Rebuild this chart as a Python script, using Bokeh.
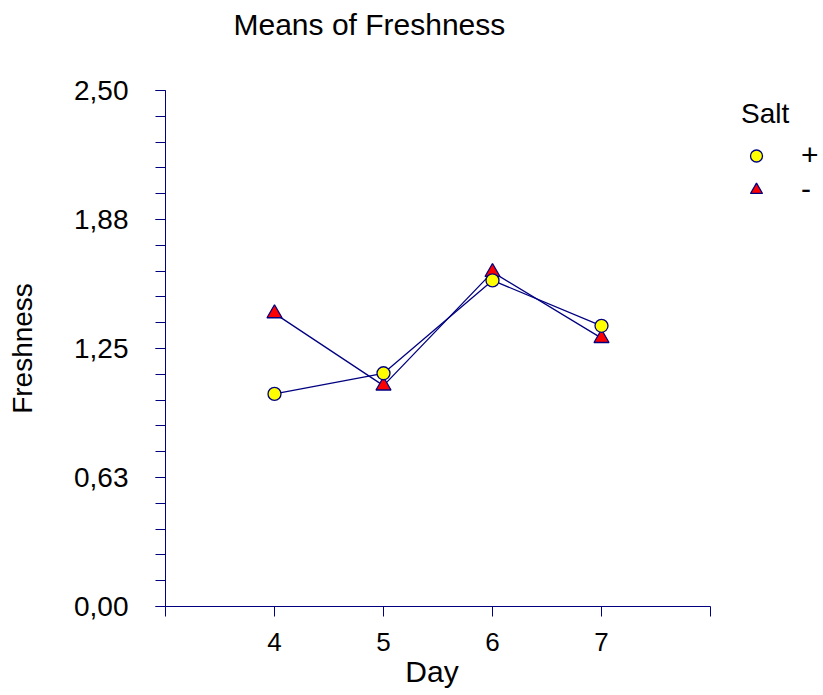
from bokeh.plotting import figure
from bokeh.models import FixedTicker, Legend, LegendItem, Range1d, ColumnDataSource
from bokeh.embed import file_html
from bokeh.resources import INLINE

# ---- data ----
days = [4, 5, 6, 7]
salt_plus = [1.03, 1.13, 1.58, 1.36]
salt_minus = [1.42, 1.07, 1.62, 1.30]
series_labels = ["+", "-"]
y_ticks = [0.0, 0.625, 1.25, 1.875, 2.5]
y_tick_labels = ["0,00", "0,63", "1,25", "1,88", "2,50"]
y_minor = [i * 0.125 for i in range(21)]
x_ticks = [3, 4, 5, 6, 7, 8]
x_tick_labels = ["", "4", "5", "6", "7", ""]

NAVY = "#000080"
FONT = "Liberation Sans"
NBSP = "\u00a0"

# frame spans to the right edge so the legend (drawn inside the frame) is not clipped;
# the x axis itself is bounded to the 3..8 scale
p = figure(width=823, height=695, output_backend="svg", toolbar_location=None,
           x_range=Range1d(x_ticks[0], x_ticks[0] + 658 / 109),
           y_range=Range1d(y_ticks[0], y_ticks[-1]),
           min_border_left=165, min_border_right=0,
           min_border_top=90, min_border_bottom=89)
p.outline_line_color = None
p.xgrid.visible = False
p.ygrid.visible = False
p.background_fill_color = "white"
p.border_fill_color = "white"

# title (second empty line only used to lift the text towards the top edge)
p.title.text = "Means of Freshness\n"
p.title.text_font = FONT
p.title.text_font_size = "30px"
p.title.text_font_style = "normal"
p.title.text_color = "black"
p.title.text_line_height = 1.4
p.title.align = "left"
p.title.offset = 68
p.title.vertical_align = "top"
p.title.standoff = 4

# axes
for ax in (p.xaxis[0], p.yaxis[0]):
    ax.axis_line_color = NAVY
    ax.major_tick_line_color = NAVY
    ax.minor_tick_line_color = NAVY
    ax.major_tick_out = 10
    ax.major_tick_in = 0
    ax.minor_tick_out = 10
    ax.minor_tick_in = 0
    ax.major_label_text_font = FONT
    ax.axis_label_text_font = FONT
    ax.axis_label_text_font_style = "normal"
    ax.major_label_text_color = "black"
    ax.axis_label_text_color = "black"

p.xaxis.bounds = (x_ticks[0], x_ticks[-1])
p.xaxis.ticker = FixedTicker(ticks=x_ticks)
p.xaxis.major_label_overrides = {t: l for t, l in zip(x_ticks, x_tick_labels)}
p.xaxis.minor_tick_line_color = None
p.xaxis.major_label_text_font_size = "26px"
p.xaxis.major_label_standoff = 16
# trailing no-break spaces shift the centred label under the 3..8 axis
p.xaxis.axis_label = "Day" + NBSP * 15
p.xaxis.axis_label_text_font_size = "30px"
p.xaxis.axis_label_standoff = 1

p.yaxis.ticker = FixedTicker(ticks=y_ticks, minor_ticks=y_minor)
p.yaxis.major_label_overrides = {t: l for t, l in zip(y_ticks, y_tick_labels)}
p.yaxis.major_label_text_font_size = "28px"
p.yaxis.major_label_standoff = 27
p.yaxis.axis_label = "Freshness"
p.yaxis.axis_label_text_font_size = "28px"
p.yaxis.axis_label_standoff = 33

# series
src_p = ColumnDataSource(dict(x=days, y=salt_plus))
src_m = ColumnDataSource(dict(x=days, y=salt_minus))
p.line("x", "y", source=src_m, line_color=NAVY, line_width=1.3)
p.line("x", "y", source=src_p, line_color=NAVY, line_width=1.3)
r_m = p.scatter("x", "y", source=src_m, marker="triangle", size=15,
                fill_color="red", line_color=NAVY, line_width=1.3)
r_p = p.scatter("x", "y", source=src_p, marker="circle", size=13,
                fill_color="yellow", line_color=NAVY, line_width=1.3)

legend = Legend(items=[LegendItem(label=series_labels[0], renderers=[r_p]),
                       LegendItem(label=series_labels[1], renderers=[r_m])],
                title="Salt", location=(576, 400),
                title_text_font=FONT, title_text_font_size="28px",
                title_text_font_style="normal", title_text_color="black",
                title_standoff=8,
                label_text_font=FONT, label_text_font_size="30px",
                label_text_color="black",
                glyph_height=33, glyph_width=30, label_height=33,
                spacing=0, padding=5, margin=0, label_standoff=30,
                border_line_color=None, background_fill_alpha=0)
p.add_layout(legend)

open("out.html", "w").write(file_html(p, INLINE))
